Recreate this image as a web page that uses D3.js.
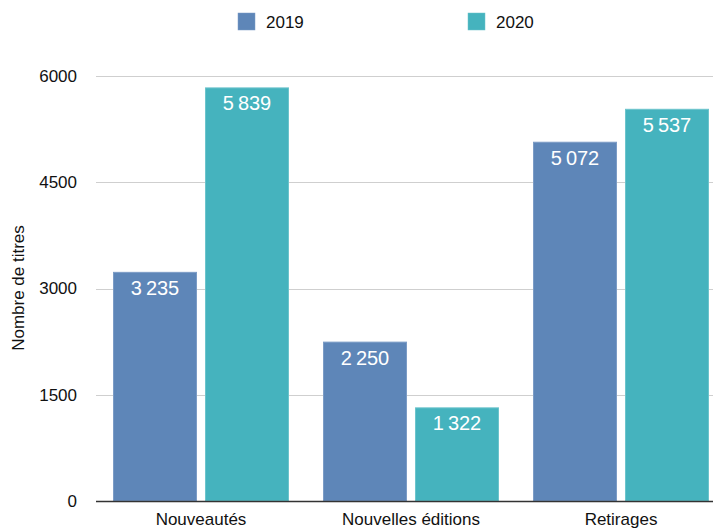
<!DOCTYPE html>
<html>
<head>
<meta charset="utf-8">
<script src="https://cdn.jsdelivr.net/npm/d3@7/dist/d3.min.js"></script>
<style>
  html, body { margin: 0; padding: 0; background: #fff; }
  svg { display: block; font-family: "Liberation Sans", Arial, Helvetica, sans-serif; }
</style>
</head>
<body>
<svg id="chart" width="713" height="529"></svg>
<script>
// Titres publiés par type, 2019 vs 2020
const categories = ["Nouveautés", "Nouvelles éditions", "Retirages"];
const years = ["2019", "2020"];
const values2019 = [3235, 2250, 5072];
const values2020 = [5839, 1322, 5537];
const yTicks = [0, 1500, 3000, 4500, 6000];
const colors = { "2019": "#5E86B8", "2020": "#45B3BE" };
const strokes = { "2019": "#7C9CC6", "2020": "#6CC4CC" };

const series = { "2019": values2019, "2020": values2020 };
const rows = categories.map((c, i) => ({
  category: c,
  bars: years.map(y => ({ year: y, value: series[y][i] }))
}));

const svg = d3.select("#chart");
const W = 713;
const left = 96, baseY = 501, topY = 76;

const x0 = d3.scaleBand().domain(categories).range([left, left + 630]);
const x1 = d3.scaleBand().domain(years).range([17, 193]).paddingInner(8 / 92);
const y = d3.scaleLinear().domain([0, 6000]).range([baseY, topY]);

// grid
svg.append("g").selectAll("line").data(yTicks.filter(t => t > 0)).join("line")
  .attr("x1", left).attr("x2", W)
  .attr("y1", d => Math.round(y(d)) + 0.5).attr("y2", d => Math.round(y(d)) + 0.5)
  .attr("stroke", "#cfcfcf").attr("stroke-width", 1);

// y axis labels
const yAxis = d3.axisLeft(y).tickValues(yTicks).tickSize(0).tickPadding(0).tickFormat(d3.format("d"));
const gy = svg.append("g").attr("transform", `translate(77,0)`).call(yAxis);
gy.select(".domain").remove();
gy.selectAll("text").attr("font-size", 17).attr("fill", "#111")
  .attr("font-family", "'Liberation Sans', Arial, sans-serif");

// axis title
svg.append("text")
  .attr("transform", `translate(24,288) rotate(-90)`)
  .attr("text-anchor", "middle")
  .attr("font-size", 17).attr("fill", "#111")
  .text("Nombre de titres");

// bars
const fmt = v => d3.format(",")(v).replace(/,/g, "\u202F");
const groups = svg.append("g").selectAll("g").data(rows).join("g")
  .attr("transform", d => `translate(${x0(d.category)},0)`);

groups.selectAll("rect").data(d => d.bars).join("rect")
  .attr("x", d => x1(d.year) + 0.5)
  .attr("y", d => y(d.value) + 0.5)
  .attr("width", x1.bandwidth() - 1)
  .attr("height", d => baseY - y(d.value) - 0.5)
  .attr("fill", d => colors[d.year])
  .attr("stroke", d => strokes[d.year])
  .attr("stroke-width", 1);

groups.selectAll("text.val").data(d => d.bars).join("text")
  .attr("class", "val")
  .attr("x", d => x1(d.year) + x1.bandwidth() / 2)
  .attr("y", d => y(d.value) + 23)
  .attr("text-anchor", "middle")
  .attr("font-size", 20).attr("fill", "#fff")
  .text(d => fmt(d.value));

// baseline
svg.append("line").attr("x1", left).attr("x2", W)
  .attr("y1", baseY + 0.5).attr("y2", baseY + 0.5)
  .attr("stroke", "#333").attr("stroke-width", 1.5);

// category labels
const xAxis = d3.axisBottom(x0).tickSize(0).tickPadding(0);
const gx = svg.append("g").attr("transform", `translate(0,${baseY})`).call(xAxis);
gx.select(".domain").remove();
gx.selectAll("text").attr("font-size", 17).attr("fill", "#111")
  .attr("font-family", "'Liberation Sans', Arial, sans-serif")
  .attr("dy", null).attr("y", 24);

// legend
const legendX = { "2019": 238, "2020": 468 };
const lg = svg.append("g").selectAll("g").data(years).join("g")
  .attr("transform", d => `translate(${legendX[d]},13)`);
lg.append("rect").attr("width", 17).attr("height", 17)
  .attr("fill", d => colors[d]).attr("stroke", d => strokes[d]).attr("stroke-width", 0.5);
lg.append("text").attr("x", 28).attr("y", 15).attr("font-size", 17).attr("fill", "#111")
  .text(d => d);
</script>
</body>
</html>
